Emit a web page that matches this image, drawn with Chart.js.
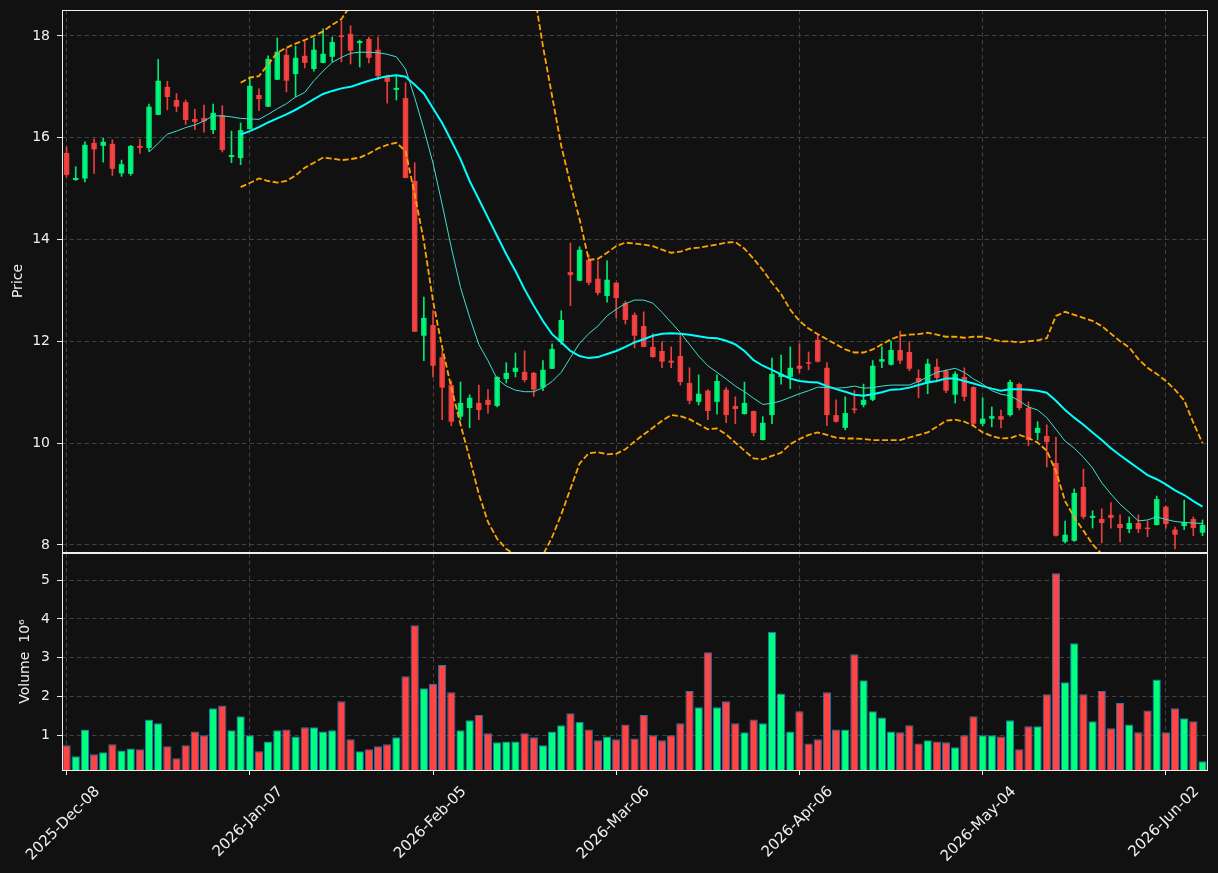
<!DOCTYPE html>
<html>
<head>
<meta charset="utf-8">
<script src="https://cdn.jsdelivr.net/npm/chart.js@4.4.1/dist/chart.umd.min.js"></script>
<style>
  html, body { margin: 0; background: #111111; }
  #wrap { position: relative; width: 1218px; height: 873px; }
  #priceBox { position: absolute; left: 0; top: 0; width: 1218px; height: 560px; }
  #volBox { position: absolute; left: 0; top: 543px; width: 1218px; height: 330px; }
</style>
</head>
<body>
<div id="wrap">
  <div id="priceBox"><canvas id="priceChart"></canvas></div>
  <div id="volBox"><canvas id="volChart"></canvas></div>
</div>
<script>
/* ── DATA ───────────────────────────────────── */
const opens = [15.70,15.17,15.20,15.90,15.84,15.88,15.30,15.29,15.84,15.80,
  16.45,17.00,16.74,16.70,16.37,16.39,16.15,16.44,15.62,15.60,
  16.17,16.84,16.61,17.14,17.63,17.25,17.61,17.35,17.47,17.59,
  18.00,18.04,17.86,17.94,17.73,17.21,16.94,16.78,15.15,12.11,
  12.32,11.69,11.14,10.52,10.69,10.79,10.85,10.73,11.26,11.40,
  11.40,11.38,11.09,11.46,11.99,13.36,13.19,13.60,13.23,12.89,
  13.15,12.75,12.52,12.30,11.89,11.81,11.62,11.71,11.18,10.81,
  11.03,10.81,11.05,10.73,10.57,10.63,10.06,10.55,11.30,11.30,
  11.52,11.58,12.03,11.48,10.55,10.30,10.67,10.75,10.85,11.60,
  11.54,11.83,11.79,11.28,11.18,11.50,11.42,10.95,11.30,11.10,
  10.38,10.48,10.53,10.55,11.16,10.69,10.20,10.14,9.61,8.06,
  8.08,9.14,8.53,8.51,8.59,8.41,8.31,8.43,8.33,8.39,
  8.75,8.30,8.37,8.51,8.24];
const highs = [15.82,15.43,15.92,15.98,15.99,15.96,15.56,15.85,15.97,16.66,
  17.54,17.11,16.87,16.74,16.56,16.64,16.66,16.63,16.13,16.29,
  17.20,16.96,17.61,17.96,17.75,17.80,17.90,17.96,18.14,17.98,
  18.30,18.20,17.92,17.98,17.98,17.23,17.20,17.08,15.51,12.87,
  12.60,11.81,11.22,11.20,10.95,11.14,11.05,11.30,11.58,11.77,
  11.81,11.39,11.62,11.95,12.60,13.93,13.86,13.70,13.58,13.58,
  13.16,12.79,12.56,12.58,12.15,11.99,11.89,12.13,11.48,11.34,
  11.05,11.34,11.09,10.91,11.20,10.63,10.52,11.67,11.73,11.89,
  11.95,11.79,12.13,11.58,10.85,10.91,11.03,11.16,11.62,11.89,
  12.01,12.20,11.99,11.44,11.65,11.65,11.44,11.40,11.48,11.11,
  10.89,10.71,10.65,11.24,11.18,10.81,10.42,10.36,10.12,8.47,
  9.10,9.49,8.67,8.71,8.83,8.59,8.55,8.59,8.47,8.96,
  8.76,8.35,8.88,8.55,8.49];
const lows = [15.23,15.16,15.13,15.30,15.52,15.26,15.24,15.26,15.69,15.73,
  16.45,16.55,16.51,16.26,16.16,16.11,16.08,15.72,15.51,15.47,
  16.17,16.53,16.61,17.14,16.90,16.80,17.37,17.31,17.47,17.49,
  17.49,17.45,17.39,17.47,17.14,16.68,16.74,15.21,12.19,11.62,
  11.30,10.46,10.34,10.46,10.30,10.46,10.59,10.71,11.18,11.30,
  11.20,10.92,11.03,11.46,11.94,12.70,13.19,13.11,12.91,12.77,
  12.46,12.34,11.87,11.89,11.69,11.48,11.48,11.14,10.77,10.75,
  10.46,10.57,10.40,10.38,10.57,10.14,10.06,10.38,11.16,11.07,
  11.38,11.44,11.59,10.34,10.41,10.26,10.59,10.71,10.83,11.48,
  11.53,11.56,11.42,10.89,10.97,11.20,10.99,10.79,10.83,10.32,
  10.34,10.32,10.30,10.53,10.65,9.95,10.06,9.53,8.17,8.04,
  8.07,8.51,8.33,8.04,8.33,8.06,8.24,8.24,8.16,8.39,
  8.33,7.92,8.30,8.18,8.18];
const closes = [15.27,15.21,15.86,15.77,15.92,15.39,15.48,15.84,15.80,16.61,
  17.12,16.80,16.61,16.35,16.31,16.32,16.49,15.76,15.66,16.15,
  17.02,16.76,17.55,17.69,17.12,17.57,17.47,17.73,17.65,17.88,
  17.98,17.71,17.90,17.57,17.21,17.10,16.98,15.21,12.19,12.46,
  11.52,11.09,10.42,10.79,10.89,10.65,10.75,11.30,11.38,11.48,
  11.24,11.05,11.44,11.85,12.42,13.30,13.80,13.15,12.95,13.21,
  12.85,12.42,12.11,11.89,11.69,11.60,11.58,11.20,10.83,10.97,
  10.63,11.22,10.55,10.67,10.79,10.20,10.40,11.36,11.36,11.48,
  11.46,11.56,11.60,10.55,10.42,10.59,10.65,10.85,11.52,11.65,
  11.83,11.62,11.46,11.20,11.56,11.28,11.03,11.36,10.91,10.38,
  10.48,10.53,10.46,11.20,10.69,10.06,10.30,10.02,8.18,8.20,
  9.02,8.55,8.57,8.43,8.53,8.33,8.43,8.31,8.31,8.90,
  8.41,8.20,8.45,8.33,8.39];
// volume, millions
const volumes = [0.74,0.46,1.15,0.51,0.56,0.77,0.61,0.66,0.64,1.41,
  1.31,0.72,0.41,0.74,1.10,1.00,1.70,1.77,1.13,1.49,
  1.00,0.59,0.84,1.13,1.15,0.97,1.21,1.21,1.10,1.13,
  1.88,0.90,0.59,0.64,0.72,0.77,0.95,2.52,3.84,2.21,
  2.32,2.81,2.11,1.13,1.39,1.52,1.05,0.82,0.84,0.84,
  1.05,0.95,0.74,1.10,1.26,1.57,1.34,1.15,0.87,0.97,
  0.90,1.28,0.92,1.52,1.00,0.87,1.00,1.31,2.14,1.72,
  3.14,1.72,1.88,1.31,1.08,1.41,1.31,3.66,2.08,1.10,
  1.62,0.79,0.90,2.11,1.15,1.15,3.09,2.42,1.62,1.46,
  1.10,1.08,1.26,0.79,0.87,0.84,0.82,0.69,1.00,1.49,
  1.00,1.00,0.97,1.39,0.64,1.23,1.23,2.06,5.18,2.37,
  3.37,2.06,1.36,2.14,1.18,1.83,1.28,1.08,1.64,2.44,
  1.08,1.70,1.44,1.36,0.33];
// moving averages and bands as drawn (null = not drawn / off panel)
const ma10 = [null,null,null,null,null,null,null,null,null,15.72,
  15.89,16.07,16.13,16.20,16.25,16.33,16.43,16.43,16.41,16.38,
  16.37,16.36,16.46,16.57,16.67,16.80,16.89,17.12,17.31,17.48,
  17.58,17.66,17.68,17.68,17.67,17.64,17.59,17.35,16.79,16.17,
  15.50,14.69,13.84,13.06,12.47,11.94,11.62,11.26,11.12,11.04,
  11.01,11.01,11.09,11.21,11.39,11.68,11.96,12.15,12.30,12.50,
  12.63,12.74,12.81,12.81,12.75,12.57,12.37,12.17,11.94,11.71,
  11.52,11.39,11.26,11.12,11.01,10.88,10.76,10.78,10.83,10.90,
  10.97,11.03,11.10,11.09,11.08,11.09,11.12,11.08,11.09,11.12,
  11.14,11.14,11.14,11.21,11.30,11.39,11.43,11.47,11.39,11.26,
  11.16,11.03,10.96,10.93,10.83,10.71,10.65,10.50,10.27,10.04,
  9.90,9.72,9.51,9.22,9.00,8.80,8.64,8.47,8.49,8.55,
  8.50,8.46,8.44,8.43,8.42];
const ma20 = [null,null,null,null,null,null,null,null,null,null,
  null,null,null,null,null,null,null,null,null,16.06,
  16.13,16.21,16.30,16.38,16.46,16.55,16.65,16.76,16.86,16.92,
  16.97,17.00,17.06,17.12,17.17,17.21,17.23,17.20,17.04,16.87,
  16.58,16.29,15.94,15.58,15.15,14.79,14.43,14.07,13.71,13.38,
  13.02,12.70,12.40,12.14,11.98,11.81,11.71,11.67,11.69,11.75,
  11.81,11.89,11.98,12.04,12.11,12.15,12.16,12.15,12.13,12.10,
  12.07,12.06,12.01,11.94,11.81,11.63,11.52,11.44,11.35,11.27,
  11.22,11.20,11.19,11.12,11.06,11.01,10.95,10.93,10.96,11.00,
  11.05,11.06,11.09,11.14,11.19,11.22,11.27,11.27,11.22,11.17,
  11.12,11.07,11.03,11.06,11.06,11.05,11.03,10.99,10.83,10.65,
  10.50,10.36,10.21,10.06,9.90,9.76,9.63,9.50,9.37,9.29,
  9.19,9.07,8.98,8.86,8.75];
const bbUpper = [null,null,null,null,null,null,null,null,null,null,
  null,null,null,null,null,null,null,null,null,17.08,
  17.18,17.21,17.44,17.67,17.77,17.85,17.92,18.00,18.09,18.22,
  18.33,18.60,null,null,null,null,null,null,null,null,
  null,null,null,null,null,null,null,null,null,null,
  null,18.90,17.80,16.82,15.84,15.09,14.40,13.60,13.62,13.74,
  13.87,13.94,13.92,13.90,13.87,13.80,13.74,13.76,13.82,13.84,
  13.87,13.90,13.94,13.95,13.82,13.62,13.40,13.15,12.93,12.62,
  12.40,12.25,12.14,12.04,11.94,11.84,11.78,11.78,11.84,11.94,
  12.04,12.11,12.13,12.14,12.17,12.13,12.09,12.09,12.07,12.09,
  12.09,12.04,12.00,12.00,11.98,12.00,12.02,12.06,12.50,12.58,
  12.52,12.46,12.40,12.30,12.15,12.00,11.88,11.65,11.48,11.36,
  11.22,11.05,10.84,10.40,10.00];
const bbLower = [null,null,null,null,null,null,null,null,null,null,
  null,null,null,null,null,null,null,null,null,15.03,
  15.11,15.20,15.15,15.12,15.15,15.26,15.41,15.51,15.61,15.59,
  15.56,15.58,15.61,15.69,15.79,15.86,15.90,15.74,14.89,13.97,
  12.79,11.88,11.09,10.37,9.70,9.00,8.45,8.12,7.92,7.80,
  7.72,7.72,7.80,8.15,8.60,9.10,9.60,9.80,9.82,9.78,
  9.79,9.88,10.03,10.17,10.30,10.44,10.55,10.53,10.47,10.37,
  10.27,10.29,10.17,10.01,9.85,9.70,9.68,9.75,9.81,9.98,
  10.08,10.16,10.21,10.16,10.11,10.09,10.09,10.08,10.06,10.06,
  10.06,10.06,10.11,10.16,10.21,10.32,10.44,10.46,10.42,10.34,
  10.21,10.14,10.09,10.10,10.16,10.10,10.01,9.85,9.45,8.86,
  8.54,8.28,8.01,7.82,7.60,null,null,null,null,null,
  null,null,null,null,null];

/* ── DATES (trading days) ───────────────────── */
const MONTHS = ['Jan','Feb','Mar','Apr','May','Jun','Jul','Aug','Sep','Oct','Nov','Dec'];
const holidays = ['2025-12-25','2026-01-01','2026-01-19','2026-02-16','2026-04-03','2026-05-25'];
const labels = [];
for (let d = new Date(Date.UTC(2025, 11, 8)); labels.length < opens.length; d.setUTCDate(d.getUTCDate() + 1)) {
    const iso = d.toISOString().slice(0, 10);
    const wd = d.getUTCDay();
    if (wd === 0 || wd === 6 || holidays.includes(iso)) continue;
    labels.push(d.getUTCFullYear() + '-' + MONTHS[d.getUTCMonth()] + '-' + iso.slice(8));
}

const dateTicks  = [0, 20, 40, 60, 80, 100, 120];
const priceTicks = [8, 10, 12, 14, 16, 18];
const volTicks   = [1, 2, 3, 4, 5];

/* ── STYLE ──────────────────────────────────── */
Chart.defaults.font.family = "'DejaVu Sans', sans-serif";
Chart.defaults.font.size = 14;
Chart.defaults.color = '#f0f0f0';
const TXT = '#f0f0f0';
const GRID = '#414141';
const DASH = [4.5, 3];
const UP = 'rgba(0,255,127,0.9)', DOWN = 'rgba(255,68,68,0.9)';
const VUP = '#00ff7f', VDOWN = '#ff4444';
const isUp = closes.map((c, i) => c >= opens[i]);
const candleColors = isUp.map(u => u ? UP : DOWN);
const volColors = isUp.map(u => u ? VUP : VDOWN);
const xy = arr => arr.map((v, i) => ({ x: i, y: v }));
const setTicks = list => s => { s.ticks = list.map(v => ({ value: v })); };
const noPad = s => { s.paddingTop = s.paddingBottom = s.paddingLeft = s.paddingRight = 0; };

const frame = {
    id: 'frame',
    afterDatasetsDraw(chart) {
        const { ctx, chartArea: a } = chart;
        ctx.save();
        ctx.strokeStyle = '#eeeeee';
        ctx.lineWidth = 1;
        ctx.strokeRect(a.left + 0.5, a.top + 0.5, a.right - a.left - 1, a.bottom - a.top);
        ctx.restore();
    }
};
const xRange = { min: -0.5, max: 124.6, offset: false };
const commonOpts = {
    responsive: true, maintainAspectRatio: false, animation: false,
    events: [],
    plugins: { legend: { display: false }, tooltip: { enabled: false } },
};
const lineDs = (data, color, width, dash) => ({
    type: 'line', data: xy(data), borderColor: color, borderWidth: width,
    borderDash: dash || [], pointRadius: 0, tension: 0, spanGaps: false, order: 0,
});

/* ── PRICE PANEL ────────────────────────────── */
new Chart(document.getElementById('priceChart'), {
    type: 'bar',
    data: {
        datasets: [
            lineDs(ma10, '#40e0d0', 1),
            lineDs(ma20, '#00ffff', 2),
            lineDs(bbUpper, '#ffa500', 1.8, [6, 2.6]),
            lineDs(bbLower, '#ffa500', 1.8, [6, 2.6]),
            {
                type: 'bar', order: 1, grouped: false,
                data: opens.map((o, i) => ({ x: i, y: [o, closes[i]] })),
                backgroundColor: candleColors,
                barPercentage: 0.6, categoryPercentage: 1, minBarLength: 1.5,
            },
            {
                type: 'bar', order: 2, grouped: false,
                data: lows.map((l, i) => ({ x: i, y: [l, highs[i]] })),
                backgroundColor: candleColors, barThickness: 1,
            },
        ]
    },
    options: {
        ...commonOpts,
        layout: { padding: { top: 10, right: 10, bottom: 8, left: 0 } },
        scales: {
            x: {
                type: 'linear', ...xRange,
                afterBuildTicks: setTicks(dateTicks),
                ticks: { display: false },
                grid: { color: GRID, drawTicks: false, offset: false },
                border: { display: false, dash: DASH },
                afterFit: s => { s.height = 0; noPad(s); },
            },
            y: {
                type: 'linear', min: 7.86, max: 18.51,
                afterBuildTicks: setTicks(priceTicks),
                ticks: { color: TXT, padding: 7 },
                grid: { color: GRID, tickColor: '#eeeeee', tickLength: 5, tickBorderDash: [] },
                border: { display: false, dash: DASH },
                title: { display: true, text: 'Price', color: TXT, padding: { top: 10, bottom: 0 } },
                afterFit: s => { s.width = 62; noPad(s); },
            }
        }
    },
    plugins: [frame]
});

/* ── VOLUME PANEL ───────────────────────────── */
new Chart(document.getElementById('volChart'), {
    type: 'bar',
    data: {
        datasets: [{
            data: volumes.map((v, i) => ({ x: i, y: v })),
            backgroundColor: volColors,
            borderColor: '#1f77b4', borderWidth: 1,
            barPercentage: 0.9, categoryPercentage: 1,
        }]
    },
    options: {
        ...commonOpts,
        layout: { padding: { top: 10, right: 10, bottom: 0, left: 0 } },
        scales: {
            x: {
                type: 'linear', ...xRange,
                afterBuildTicks: setTicks(dateTicks),
                ticks: {
                    color: TXT, autoSkip: false, minRotation: 45, maxRotation: 45,
                    labelOffset: 31, padding: 8, font: { size: 15 },
                    callback: v => labels[v],
                },
                grid: { color: GRID, tickColor: '#eeeeee', tickLength: 5, tickBorderDash: [], offset: false },
                border: { display: false, dash: DASH },
                afterFit: s => { s.height = 103; noPad(s); },
            },
            y: {
                type: 'linear', min: 0.105, max: 5.70,
                afterBuildTicks: setTicks(volTicks),
                ticks: { color: TXT, padding: 7 },
                grid: { color: GRID, tickColor: '#eeeeee', tickLength: 5, tickBorderDash: [] },
                border: { display: false, dash: DASH },
                title: { display: true, text: 'Volume  10\u2076', color: TXT, padding: { top: 17, bottom: 0 } },
                afterFit: s => { s.width = 62; noPad(s); },
            }
        }
    },
    plugins: [frame]
});
</script>
</body>
</html>
